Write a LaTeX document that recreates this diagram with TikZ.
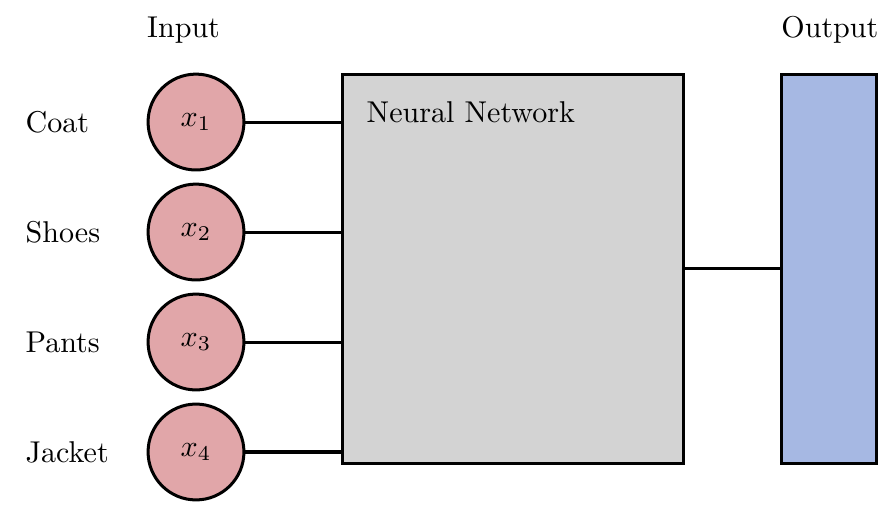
\documentclass[tikz,border=0pt]{standalone}
\definecolor{inpink}{HTML}{E1A6A9}
\definecolor{nngray}{HTML}{D3D3D3}
\definecolor{outblue}{HTML}{A6B8E3}
\begin{document}
\begin{tikzpicture}[line width=1pt,
  neuron/.style={circle,draw,fill=inpink,minimum size=1.12cm,inner sep=0pt},
  block/.style={draw,minimum height=4.55cm}]
\useasboundingbox (0,0) rectangle (10.41,6.005);
\node[anchor=base west] (inlabel) at (1.585,5.57) {Input};
\node[anchor=base west] (outlabel) at (8.995,5.57) {Output};
\node[neuron] (x1) at (2.29,4.579) {$x_1$};
\node[neuron] (x2) at (2.29,3.294) {$x_2$};
\node[neuron] (x3) at (2.29,2.009) {$x_3$};
\node[neuron] (x4) at (2.29,0.724) {$x_4$};
\node[anchor=west] (coat) at (0.165,4.579) {Coat};
\node[anchor=west] (shoes) at (0.165,3.294) {Shoes};
\node[anchor=west] (pants) at (0.165,2.009) {Pants};
\node[anchor=west] (jacket) at (0.165,0.724) {Jacket};
\node[block,fill=nngray,minimum width=3.99cm] (nn) at (5.995,2.865) {};
\node[anchor=base west] (nnlabel) at (4.15,4.576) {Neural Network};
\node[block,fill=outblue,minimum width=1.11cm] (out) at (9.685,2.865) {};
\draw (x1) -- (x1 -| nn.west);
\draw (x2) -- (x2 -| nn.west);
\draw (x3) -- (x3 -| nn.west);
\draw (x4) -- (x4 -| nn.west);
\draw (nn.east) -- (out.west);
\end{tikzpicture}
\end{document}
